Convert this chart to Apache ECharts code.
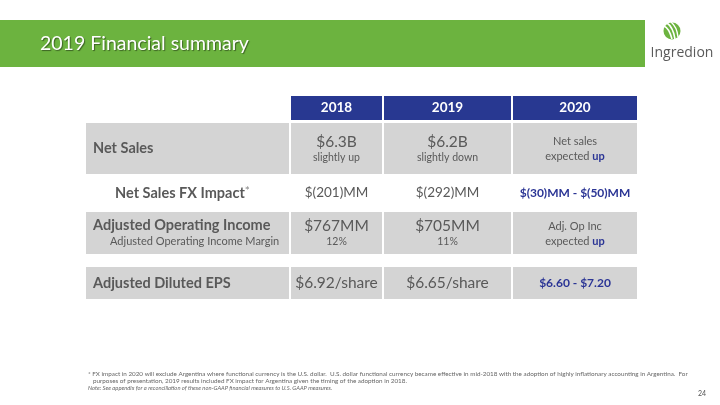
<!DOCTYPE html>
<html>
<head>
<meta charset="utf-8">
<script src="https://cdn.jsdelivr.net/npm/echarts@6/dist/echarts.min.js"></script>
<style>html,body{margin:0;padding:0;background:#fff}#main{width:720px;height:405px}</style>
</head>
<body>
<div id="main"></div>
<script>
// ---- data ----
var title = '2019 Financial summary';
var years = ['2018', '2019', '2020'];
var rowLabels = ['Net Sales', 'Net Sales FX Impact', 'Adjusted Operating Income', 'Adjusted Diluted EPS'];
var subLabels = ['', '', 'Adjusted Operating Income Margin', ''];
var values2018 = ['$6.3B', '$(201)MM', '$767MM', '$6.92/share'];
var sub2018 = ['slightly up', '', '12%', ''];
var values2019 = ['$6.2B', '$(292)MM', '$705MM', '$6.65/share'];
var sub2019 = ['slightly down', '', '11%', ''];
var outlook2020 = ['Net sales', '$(30)MM - $(50)MM', 'Adj. Op Inc', '$6.60 - $7.20'];
var outlook2020Sub = ['expected up', '', 'expected up', ''];
var footnote1 = '* FX impact in 2020 will exclude Argentina where functional currency is the U.S. dollar.  U.S. dollar functional currency became effective in mid-2018 with the adoption of highly inflationary accounting in Argentina.  For';
var footnote2 = 'purposes of presentation, 2019 results included FX impact for Argentina given the timing of the adoption in 2018.';
var note = 'Note: See appendix for a reconciliation of these non-GAAP financial measures to U.S. GAAP measures.';
var pageNo = '24';

// ---- layout ----
var FONT = 'Lato, "Open Sans", sans-serif';
var GREEN = '#6cb33f', NAVY = '#283891', GRAY = '#d4d4d4', TXT = '#595959', BLUE = '#2b3595';
var labelX0 = 86, labelX1 = 289;
var colX = [[291, 382], [384, 511], [513, 637]];
var headerY = [96, 120];
var rowY = [[123, 174], [175, 211], [212, 254], [267, 299]];
var rowFilled = [true, false, true, true];

var chart = echarts.init(document.getElementById('main'), null, {renderer: 'canvas'});
var g = [];

// header band
g.push({type: 'rect', shape: {x: 0, y: 20, width: 645, height: 47}, style: {fill: GREEN}});
g.push({type: 'text', x: 40, y: 44, style: {text: title, fill: '#fff', font: '19.5px ' + FONT, textVerticalAlign: 'middle', textShadowColor: 'rgba(0,0,0,0.45)', textShadowOffsetX: 1, textShadowOffsetY: 1, textShadowBlur: 1}});

// logo
g.push({type: 'circle', shape: {cx: 672, cy: 31, r: 8.5}, style: {fill: '#6cb33f'}});
g.push({type: 'bezierCurve', shape: {x1: 664, y1: 26, x2: 672, y2: 39, cpx1: 669, cpy1: 28}, style: {stroke: '#fff', lineWidth: 1.6, fill: null}});
g.push({type: 'bezierCurve', shape: {x1: 667, y1: 23, x2: 675, y2: 39, cpx1: 673, cpy1: 27}, style: {stroke: '#fff', lineWidth: 1.6, fill: null}});
g.push({type: 'bezierCurve', shape: {x1: 671, y1: 22, x2: 678, y2: 37, cpx1: 677, cpy1: 27}, style: {stroke: '#fff', lineWidth: 1.4, fill: null}});
g.push({type: 'text', x: 682, y: 53, style: {text: 'Ingredion', fill: '#5a5a5a', font: '14px "Open Sans", sans-serif', textAlign: 'center', textVerticalAlign: 'middle'}});

// table header
years.forEach(function (y, i) {
  var c = colX[i];
  g.push({type: 'rect', shape: {x: c[0], y: headerY[0], width: c[1] - c[0], height: headerY[1] - headerY[0]}, style: {fill: NAVY}});
  g.push({type: 'text', x: (c[0] + c[1]) / 2, y: (headerY[0] + headerY[1]) / 2, style: {text: y, fill: '#fff', font: 'bold 13.5px ' + FONT, textAlign: 'center', textVerticalAlign: 'middle'}});
});

// rows
rowLabels.forEach(function (lab, r) {
  var ry = rowY[r];
  var mid = (ry[0] + ry[1]) / 2;
  if (rowFilled[r]) {
    g.push({type: 'rect', shape: {x: labelX0, y: ry[0], width: labelX1 - labelX0, height: ry[1] - ry[0]}, style: {fill: GRAY}});
    colX.forEach(function (c) {
      g.push({type: 'rect', shape: {x: c[0], y: ry[0], width: c[1] - c[0], height: ry[1] - ry[0]}, style: {fill: GRAY}});
    });
  }
  // label
  if (r === 1) {
    g.push({type: 'text', x: (labelX0 + labelX1) / 2 - 5, y: mid, style: {text: '{b|' + lab + '}{s|*}', textAlign: 'center', textVerticalAlign: 'middle', rich: {b: {font: 'bold 14.5px ' + FONT, fill: TXT}, s: {font: '12px ' + FONT, fill: '#8a8a8a', verticalAlign: 'top'}}}});
  } else if (subLabels[r]) {
    g.push({type: 'text', x: 93, y: mid - 8, style: {text: lab, fill: TXT, font: 'bold 14.5px ' + FONT, textVerticalAlign: 'middle'}});
    g.push({type: 'text', x: 110, y: mid + 8.5, style: {text: subLabels[r], fill: TXT, font: '11px ' + FONT, textVerticalAlign: 'middle'}});
  } else {
    g.push({type: 'text', x: 93, y: mid, style: {text: lab, fill: TXT, font: 'bold 14.5px ' + FONT, textVerticalAlign: 'middle'}});
  }
  // 2018 / 2019
  [[values2018, sub2018], [values2019, sub2019]].forEach(function (pair, i) {
    var cx = (colX[i][0] + colX[i][1]) / 2;
    var fs = r === 1 ? 13.5 : 15.5;
    if (pair[1][r]) {
      g.push({type: 'text', x: cx, y: mid - 7, style: {text: pair[0][r], fill: TXT, font: fs + 'px ' + FONT, textAlign: 'center', textVerticalAlign: 'middle'}});
      g.push({type: 'text', x: cx, y: mid + 9, style: {text: pair[1][r], fill: TXT, font: '10.5px ' + FONT, textAlign: 'center', textVerticalAlign: 'middle'}});
    } else {
      g.push({type: 'text', x: cx, y: mid, style: {text: pair[0][r], fill: TXT, font: fs + 'px ' + FONT, textAlign: 'center', textVerticalAlign: 'middle'}});
    }
  });
  // 2020
  var cx3 = (colX[2][0] + colX[2][1]) / 2;
  if (outlook2020Sub[r]) {
    var parts = outlook2020Sub[r].split(' ');
    g.push({type: 'text', x: cx3, y: mid - 7, style: {text: outlook2020[r], fill: TXT, font: '11px ' + FONT, textAlign: 'center', textVerticalAlign: 'middle'}});
    g.push({type: 'text', x: cx3, y: mid + 8, style: {text: '{n|' + parts[0] + ' }{b|' + parts[1] + '}', textAlign: 'center', textVerticalAlign: 'middle', rich: {n: {font: '11px ' + FONT, fill: TXT}, b: {font: 'bold 11px ' + FONT, fill: BLUE}}}});
  } else {
    g.push({type: 'text', x: cx3, y: mid, style: {text: outlook2020[r], fill: BLUE, font: 'bold 12px ' + FONT, textAlign: 'center', textVerticalAlign: 'middle'}});
  }
});

// footnotes
g.push({type: 'text', x: 88, y: 374, style: {text: footnote1, fill: '#666', font: '6.3px ' + FONT, textVerticalAlign: 'middle'}});
g.push({type: 'text', x: 93, y: 380.5, style: {text: footnote2, fill: '#666', font: '6.3px ' + FONT, textVerticalAlign: 'middle'}});
g.push({type: 'text', x: 88, y: 388, style: {text: note, fill: '#666', font: 'italic 5.8px ' + FONT, textVerticalAlign: 'middle'}});
g.push({type: 'text', x: 702, y: 394, style: {text: pageNo, fill: '#555', font: '7px ' + FONT, textAlign: 'center', textVerticalAlign: 'middle'}});

chart.setOption({animation: false, backgroundColor: '#fff', graphic: g});
</script>
</body>
</html>
